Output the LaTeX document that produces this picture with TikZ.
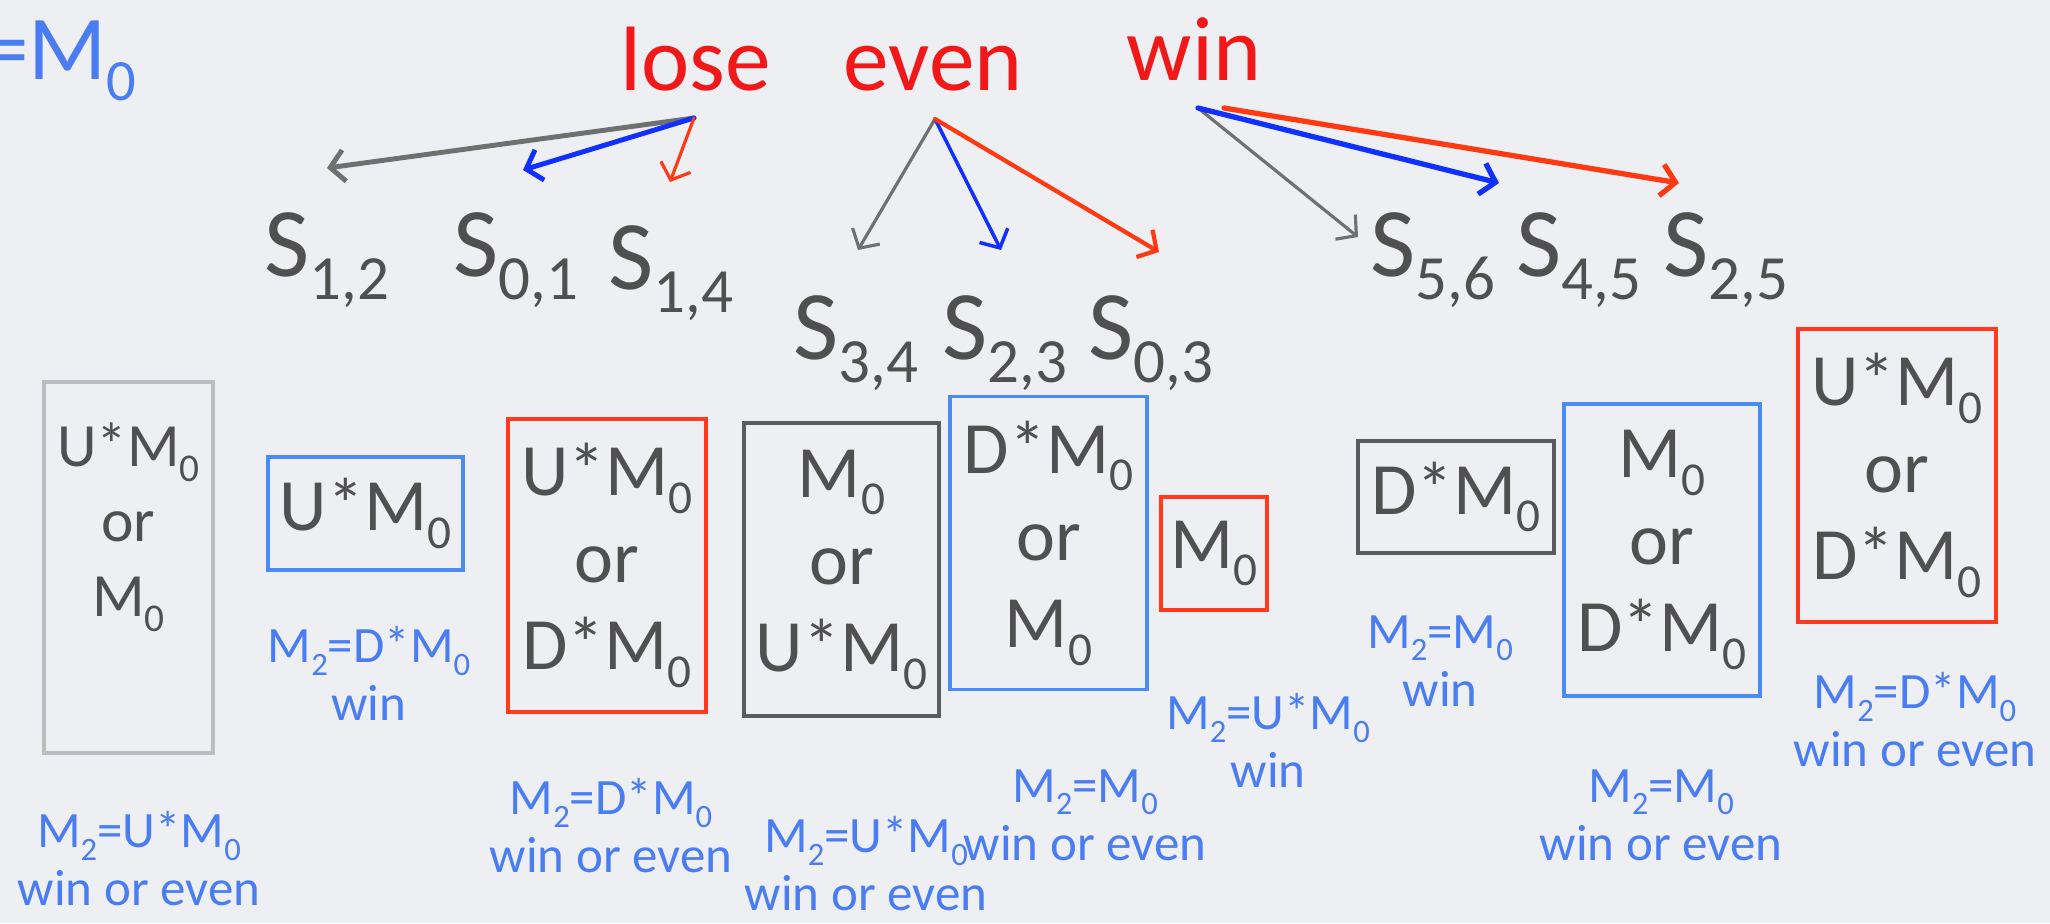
\documentclass[tikz,border=0pt]{standalone}
\usepackage{fontspec}
\setmainfont{Carlito}
\usepackage{graphicx}
\usepackage{tikz}
\usetikzlibrary{arrows.meta,positioning,calc}
\definecolor{bgc}{HTML}{EDEFF2}
\definecolor{loud}{HTML}{F01818}
\definecolor{redline}{HTML}{FF3A12}
\definecolor{blueline}{HTML}{1030FF}
\definecolor{grayline}{HTML}{707070}
\definecolor{ink}{HTML}{505050}
\definecolor{notec}{HTML}{4A7DF2}
\definecolor{boxblue}{HTML}{4C8BF5}
\definecolor{boxred}{HTML}{FF3A1E}
\definecolor{boxgray}{HTML}{5C5C5C}
\definecolor{boxlight}{HTML}{BDBDBD}
\newcommand{\idx}[1]{\raisebox{-0.24em}{\scalebox{0.64}{#1}}}

\begin{document}
\begin{tikzpicture}[
  head/.style={text=loud,font=\fontsize{26}{28}\selectfont,inner sep=0pt,anchor=base},
  state/.style={text=ink,font=\fontsize{28}{30}\selectfont,inner sep=0pt,anchor=base},
  bx/.style={draw,line width=1.1pt,text=ink,font=\fontsize{21}{24.8}\selectfont,align=center,inner sep=0pt,minimum width=1.96cm,minimum height=2.93cm},
  lightbox/.style={bx,draw=boxlight,font=\fontsize{17.5}{21.3}\selectfont,minimum width=1.69cm,minimum height=3.71cm,text depth=0.95cm},
  bluebox/.style={bx,draw=boxblue},
  redbox/.style={bx,draw=boxred},
  graybox/.style={bx,draw=boxgray},
  note/.style={text=notec,font=\fontsize{14.5}{16.5}\selectfont,align=center,inner sep=0pt,anchor=north},
  arr/.style={-{Straight Barb[length=4pt,width=9pt]},line cap=round}]
\useasboundingbox (0,0) rectangle (20.5,-9.23);
\fill[bgc] (0,0) rectangle (20.5,-9.23);
\node[text=notec,font=\fontsize{26}{28}\selectfont,inner sep=0pt,anchor=base east] (mzero) at (1.37,-0.79) {=M\idx{0}};
\node[head] (lose) at (6.96,-0.90) {lose};
\node[head] (even) at (9.33,-0.90) {even};
\node[head] (win) at (11.94,-0.80) {win};
\node[state] (s12) at (3.27,-2.76) {S\idx{1,2}};
\node[state] (s01) at (5.16,-2.76) {S\idx{0,1}};
\node[state] (s14) at (6.71,-2.89) {S\idx{1,4}};
\node[state] (s34) at (8.56,-3.59) {S\idx{3,4}};
\node[state] (s23) at (10.05,-3.59) {S\idx{2,3}};
\node[state] (s03) at (11.51,-3.59) {S\idx{0,3}};
\node[state] (s56) at (14.33,-2.76) {S\idx{5,6}};
\node[state] (s45) at (15.79,-2.76) {S\idx{4,5}};
\node[state] (s25) at (17.26,-2.76) {S\idx{2,5}};
\coordinate (lose-o) at (6.94,-1.18);
\coordinate (even-o) at (9.35,-1.19);
\coordinate (win-o) at (11.98,-1.08);
\coordinate (win-o2) at (12.24,-1.08);
\coordinate (t12) at (3.27,-1.68);
\coordinate (t01) at (5.23,-1.70);
\coordinate (t14) at (6.70,-1.82);
\coordinate (t34) at (8.58,-2.50);
\coordinate (t23) at (10.01,-2.50);
\coordinate (t03) at (11.59,-2.52);
\coordinate (t56) at (13.58,-2.37);
\coordinate (t45) at (14.99,-1.83);
\coordinate (t25) at (16.79,-1.83);
\draw[arr,grayline,line width=1.4pt] (lose-o)--(t12); \draw[arr,blueline,line width=1.4pt] (lose-o)--(t01); \draw[arr,redline,line width=0.9pt] (lose-o)--(t14);
\draw[arr,grayline,line width=0.9pt] (even-o)--(t34); \draw[arr,blueline,line width=1pt] (even-o)--(t23); \draw[arr,redline,line width=1.2pt] (even-o)--(t03);
\draw[arr,grayline,line width=0.9pt] (win-o)--(t56); \draw[arr,blueline,line width=1.5pt] (win-o)--(t45); \draw[arr,redline,line width=1.5pt] (win-o2)--(t25);
\node[lightbox] (ba) at (1.285,-5.675) {U*M\idx{0}\\or\\M\idx{0}};
\node[bluebox,minimum width=1.95cm,minimum height=1.13cm] (bb) at (3.655,-5.135) {U*M\idx{0}};
\node[redbox,minimum width=1.98cm] (bc) at (6.07,-5.655) {U*M\idx{0}\\or\\D*M\idx{0}};
\node[graybox,minimum width=1.95cm] (bd) at (8.415,-5.695) {M\idx{0}\\or\\U*M\idx{0}};
\node[bluebox,minimum width=1.97cm] (be) at (10.485,-5.43) {D*M\idx{0}\\or\\M\idx{0}};
\node[redbox,minimum width=1.06cm,minimum height=1.13cm] (bf) at (12.14,-5.535) {M\idx{0}};
\node[graybox,minimum height=1.12cm] (bg) at (14.56,-4.97) {D*M\idx{0}};
\node[bluebox,minimum height=2.92cm] (bh) at (16.62,-5.50) {M\idx{0}\\or\\D*M\idx{0}};
\node[redbox,minimum width=1.98cm] (bi) at (18.97,-4.755) {U*M\idx{0}\\or\\D*M\idx{0}};
\node[note] (na) at (1.39,-8.11) {M\idx{2}=U*M\idx{0}\\win or even};
\node[note] (nb) at (3.69,-6.26) {M\idx{2}=D*M\idx{0}\\win};
\node[note] (nc) at (6.11,-7.78) {M\idx{2}=D*M\idx{0}\\win or even};
\node[note] (nd) at (8.66,-8.16) {M\idx{2}=U*M\idx{0}\\win or even};
\node[note] (ne) at (10.85,-7.69) {M\idx{2}=M\idx{0}\\win or even};
\node[note] (nf) at (12.68,-6.93) {M\idx{2}=U*M\idx{0}\\win};
\node[note] (ng) at (14.40,-6.15) {M\idx{2}=M\idx{0}\\win};
\node[note] (nh) at (16.61,-7.69) {M\idx{2}=M\idx{0}\\win or even};
\node[note] (ni) at (19.15,-6.72) {M\idx{2}=D*M\idx{0}\\win or even};
\end{tikzpicture}
\end{document}
